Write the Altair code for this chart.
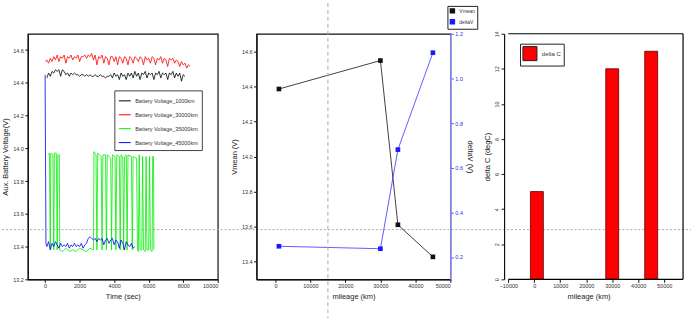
import altair as alt
import pandas as pd

FONT = "Liberation Sans"

# ---------------- Panel 1: battery voltage vs time ----------------
series_names = ["Battery Voltage_1000km", "Battery Voltage_30000km",
                "Battery Voltage_35000km", "Battery Voltage_45000km"]
series_colors = ["#000000", "#ff0000", "#00ee00", "#0000ff"]

black_t = list(range(100, 8200, 100))
black_v = [14.43, 14.46, 14.44, 14.47, 14.46, 14.48, 14.47, 14.48, 14.44, 14.48,
           14.47, 14.45, 14.46, 14.44, 14.46, 14.45, 14.46, 14.45, 14.45, 14.44,
           14.45, 14.45, 14.44, 14.45, 14.44, 14.45, 14.44, 14.44, 14.45, 14.44,
           14.44, 14.45, 14.44, 14.44, 14.43, 14.44, 14.44, 14.45, 14.43, 14.46,
           14.44, 14.45, 14.42, 14.46, 14.44, 14.45, 14.42, 14.46, 14.44, 14.46,
           14.43, 14.47, 14.44, 14.46, 14.42, 14.46, 14.45, 14.47, 14.43, 14.46,
           14.45, 14.46, 14.42, 14.46, 14.45, 14.47, 14.43, 14.46, 14.45, 14.46,
           14.42, 14.46, 14.45, 14.47, 14.43, 14.46, 14.44, 14.46, 14.41, 14.45,
           14.44]

red_t = list(range(0, 8500, 100))
red_v = [14.53, 14.54, 14.52, 14.55, 14.53, 14.56, 14.54, 14.57, 14.53, 14.56,
         14.55, 14.57, 14.52, 14.56, 14.55, 14.57, 14.54, 14.56, 14.55, 14.57,
         14.53, 14.56, 14.56, 14.57, 14.55, 14.57, 14.56, 14.58, 14.54, 14.57,
         14.51, 14.56, 14.55, 14.57, 14.52, 14.56, 14.55, 14.51, 14.56, 14.56,
         14.53, 14.56, 14.51, 14.56, 14.55, 14.52, 14.56, 14.55, 14.51, 14.56,
         14.55, 14.52, 14.56, 14.55, 14.53, 14.56, 14.55, 14.51, 14.56, 14.54,
         14.55, 14.52, 14.56, 14.55, 14.51, 14.55, 14.54, 14.56, 14.52, 14.55,
         14.54, 14.50, 14.55, 14.54, 14.55, 14.52, 14.54, 14.53, 14.50, 14.53,
         14.51, 14.52, 14.49, 14.51, 14.50]

green_t = [150, 250, 300, 330, 450, 500, 540, 650, 700, 740,
           820, 850, 1000, 1200, 1400, 1600, 1800, 2000, 2200, 2400,
           2600, 2800, 2830, 2950, 3000, 3050, 3250, 3300, 3350, 3500,
           3550, 3600, 3800, 3850, 3900, 4050, 4100, 4150, 4300, 4350,
           4400, 4500, 4550, 4600, 4700, 4750, 4800, 5000, 5050, 5100,
           5300, 5350, 5400, 5450, 5500, 5600, 5650, 5700, 5800, 5850,
           5900, 6000, 6050, 6100, 6200, 6230, 6280, 6300]
green_v = [13.96, 13.97, 13.38, 13.97, 13.96, 13.38, 13.97, 13.97, 13.38, 13.96,
           13.96, 13.38, 13.37, 13.39, 13.37, 13.38, 13.37, 13.39, 13.38, 13.37,
           13.39, 13.38, 13.98, 13.96, 13.38, 13.97, 13.95, 13.38, 13.96, 13.96,
           13.38, 13.96, 13.94, 13.38, 13.96, 13.95, 13.38, 13.96, 13.95, 13.38,
           13.96, 13.94, 13.38, 13.95, 13.96, 13.38, 13.96, 13.95, 13.38, 13.95,
           13.94, 13.38, 13.37, 13.96, 13.38, 13.38, 13.95, 13.38, 13.37, 13.95,
           13.38, 13.38, 13.95, 13.38, 13.37, 13.95, 13.95, 13.38]

blue_t = [0, 50] + list(range(100, 5300, 100))
blue_v = [14.45, 13.42,
          13.40, 13.43, 13.38, 13.42, 13.40, 13.43, 13.41, 13.39, 13.42, 13.40,
          13.41, 13.40, 13.42, 13.39, 13.41, 13.40, 13.42, 13.40, 13.41, 13.40,
          13.42, 13.39, 13.41, 13.42, 13.45, 13.46, 13.45, 13.44, 13.45, 13.43,
          13.45, 13.44, 13.45, 13.41, 13.44, 13.45, 13.42, 13.44, 13.45, 13.41,
          13.44, 13.43, 13.39, 13.44, 13.42, 13.38, 13.43, 13.41, 13.40, 13.42,
          13.39, 13.40]

time_ticks = [0, 2000, 4000, 6000, 8000, 10000]
volt_ticks = [13.2, 13.4, 13.6, 13.8, 14.0, 14.2, 14.4, 14.6]

# ---------------- Panel 2: Vmean / deltaV vs mileage ----------------
mileage2 = [1000, 30000, 35000, 45000]
vmean = [14.385, 14.547, 13.611, 13.428]
deltav = [0.248, 0.237, 0.681, 1.115]
mileage_ticks = [0, 10000, 20000, 30000, 40000, 50000]
vmean_ticks = [13.4, 13.6, 13.8, 14.0, 14.2, 14.4, 14.6]
deltav_ticks = [0.2, 0.4, 0.6, 0.8, 1.0, 1.2]

# ---------------- Panel 3: delta C bars ----------------
mileage3 = [1000, 30000, 45000]
delta_c = [5, 12, 13]
mileage3_ticks = [-10000, 0, 10000, 20000, 30000, 40000, 50000]
deltac_ticks = [0, 2, 4, 6, 8, 10, 12, 14]

# ---------------- build tables ----------------
rows = []
for name, ts, vs in zip(series_names, [black_t, red_t, green_t, blue_t],
                        [black_v, red_v, green_v, blue_v]):
    for t, v in zip(ts, vs):
        rows.append({"series": name, "t": t, "v": v})
df1 = pd.DataFrame(rows)
df2 = pd.DataFrame({"mileage": mileage2, "vmean": vmean, "deltav": deltav})
df3 = pd.DataFrame({"mileage": mileage3, "dc": delta_c, "s": ["delta C"] * len(mileage3)})
one = pd.DataFrame({"k": [0]})

# ---------------- panel 1 ----------------
legend1 = alt.Legend(title=None, orient="none", legendX=87, legendY=57,
                     fillColor="white", strokeColor="#444", padding=4,
                     labelFontSize=5.5, labelFont=FONT, symbolType="stroke",
                     symbolStrokeWidth=1, symbolSize=140, rowPadding=4,
                     labelLimit=200, labelColor="#333")
lines1 = alt.Chart(df1).mark_line(strokeWidth=0.8).encode(
    x=alt.X("t:Q", scale=alt.Scale(domain=[-1000, 10000], nice=False),
            axis=alt.Axis(values=time_ticks, format="d", title="Time (sec)",
                          labelOverlap=False)),
    y=alt.Y("v:Q", scale=alt.Scale(domain=[13.2, 14.7], nice=False, zero=False),
            axis=alt.Axis(values=volt_ticks, format=".1f", labelOverlap=False,
                          title="Aux. Battery Voltage(V)")),
    color=alt.Color("series:N",
                    scale=alt.Scale(domain=series_names, range=series_colors),
                    legend=legend1),
)
hline = alt.Chart(one).mark_rule(strokeDash=[2, 2], color="#aaaaaa", strokeWidth=1).encode(
    x=alt.value(-26), x2=alt.value(667), y=alt.value(197))
p1 = alt.layer(lines1, hline).properties(width=191, height=247)

# ---------------- panel 2 ----------------
legend2 = alt.Legend(title=None, orient="none", legendX=192, legendY=-28,
                     fillColor="white", strokeColor="#222", padding=2,
                     labelFontSize=5, labelFont=FONT, symbolType="square",
                     symbolSize=16, rowPadding=1, labelColor="#333")
color2 = alt.Scale(domain=["Vmean", "deltaV"], range=["#111111", "#1a1aff"])
x2_axis = alt.Axis(values=mileage_ticks, format="d", title="mileage (km)",
                   labelOverlap=False)
x2_scale = alt.Scale(domain=[-5400, 50000], nice=False)
base2 = alt.Chart(df2).encode(
    x=alt.X("mileage:Q", scale=x2_scale, axis=x2_axis))
vm = base2.mark_line(strokeWidth=0.8,
                     point=alt.OverlayMarkDef(shape="square", size=22, filled=True)).encode(
    y=alt.Y("vmean:Q", scale=alt.Scale(domain=[13.3, 14.7], nice=False, zero=False),
            axis=alt.Axis(values=vmean_ticks, format=".1f", title="Vmean (V)",
                          labelOverlap=False)),
    color=alt.Color("s:N", scale=color2, legend=legend2)
).transform_calculate(s="'Vmean'")
dv = base2.mark_line(strokeWidth=0.7,
                     point=alt.OverlayMarkDef(shape="square", size=22, filled=True)).encode(
    y=alt.Y("deltav:Q", scale=alt.Scale(domain=[0.1, 1.2], nice=False, zero=False),
            axis=alt.Axis(values=deltav_ticks, format=".1f", title="deltaV (V)",
                          orient="right", domainColor="#9090ff", tickColor="#5050ff",
                          labelColor="#3030dd", domainWidth=1.5, labelOverlap=False)),
    color=alt.Color("s:N", scale=color2, legend=legend2)
).transform_calculate(s="'deltaV'")
vline = alt.Chart(one).mark_rule(strokeDash=[4, 3], color="#aaaaaa", strokeWidth=1).encode(
    x=alt.X(datum=15000, axis=x2_axis), y=alt.value(-31), y2=alt.value(287))
p2 = alt.layer(vm, dv, vline).resolve_scale(y="independent").properties(width=195, height=247)

# ---------------- panel 3 ----------------
legend3 = alt.Legend(title=None, orient="none", legendX=31, legendY=10,
                     fillColor="white", strokeColor="#222", padding=2,
                     labelFontSize=6, labelFont=FONT, symbolType="square",
                     symbolSize=200, symbolStrokeColor="#222", symbolStrokeWidth=1,
                     labelColor="#333")
x3 = alt.Scale(domain=[-15450, 57270], nice=False)
y3 = alt.Scale(domain=[0, 14], nice=False)
x3_axis = alt.Axis(values=mileage3_ticks, format="d", title="mileage (km)",
                   domain=False, labelOverlap=False)
y3_axis = alt.Axis(values=deltac_ticks, format="d", title="delta C (degC)",
                   offset=-15, labelAngle=270, labelOverlap=False)
bars = alt.Chart(df3).mark_bar(size=13, stroke="#550000", strokeWidth=0.8).encode(
    x=alt.X("mileage:Q", scale=x3, axis=x3_axis),
    y=alt.Y("dc:Q", scale=y3, axis=y3_axis),
    color=alt.Color("s:N", scale=alt.Scale(domain=["delta C"], range=["#ff0000"]),
                    legend=legend3))
frame_bottom = alt.Chart(one).mark_rule(color="black", strokeWidth=1.2).encode(
    x=alt.X(datum=-10000, axis=x3_axis), x2=alt.datum(57270),
    y=alt.Y(datum=0, axis=y3_axis))
frame_top = alt.Chart(one).mark_rule(color="black", strokeWidth=1.2).encode(
    x=alt.X(datum=-10000, axis=x3_axis), x2=alt.datum(57270),
    y=alt.Y(datum=14, axis=y3_axis))
frame_right = alt.Chart(one).mark_rule(color="black", strokeWidth=1.2).encode(
    x=alt.X(datum=57270, axis=x3_axis), y=alt.Y(datum=0, axis=y3_axis), y2=alt.datum(14))
p3 = alt.layer(bars, frame_bottom, frame_top, frame_right).properties(
    width=200, height=247, view=alt.ViewBackground(stroke="transparent"))

chart = alt.hconcat(p1, p2, p3, spacing=39, bounds="flush").resolve_scale(
    color="independent"
).properties(
    padding=0, background="white"
).configure_view(stroke="#111111", strokeWidth=1.2).configure_axis(
    grid=False, labelFont=FONT, titleFont=FONT, labelFontSize=5.5, titleFontSize=7.5,
    titleFontWeight="normal", labelColor="#333333", titleColor="#222222",
    tickSize=3, tickColor="#111111", domainColor="#111111", domainWidth=1.2,
    labelPadding=1.5, titlePadding=3, labelOverlap=False
)

chart.save("out.html", embed_options={"renderer": "svg", "actions": False})
